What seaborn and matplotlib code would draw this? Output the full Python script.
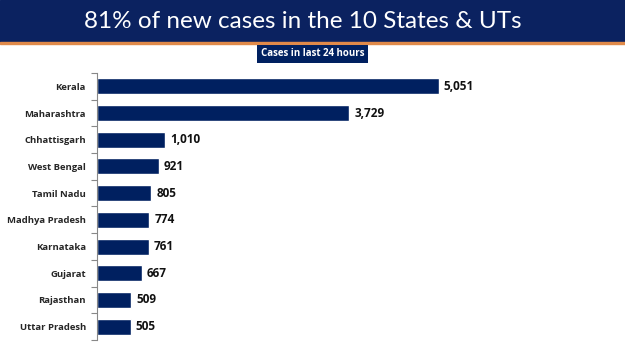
import numpy as np
import pandas as pd
import seaborn as sns
import matplotlib.pyplot as plt
from matplotlib.patches import Rectangle

states = ["Kerala", "Maharashtra", "Chhattisgarh", "West Bengal", "Tamil Nadu",
          "Madhya Pradesh", "Karnataka", "Gujarat", "Rajasthan", "Uttar Pradesh"]
cases = [5051, 3729, 1010, 921, 805, 774, 761, 667, 509, 505]

navy = "#002060"
sns.set_style("white")
plt.rcParams['font.family'] = ['Open Sans', 'DejaVu Sans']

df = pd.DataFrame({"State": states, "Cases": cases})

fig = plt.figure(figsize=(6.25, 3.51), dpi=100)

# title banner
fig.patches.append(Rectangle((0, 1 - 42 / 351), 1, 42 / 351, transform=fig.transFigure,
                             color="#0b2260", zorder=0))
fig.patches.append(Rectangle((0, 1 - 44 / 351), 1, 2 / 351, transform=fig.transFigure,
                             color="#e08a4a", zorder=0))
fig.text(0.485, 1 - 21 / 351, "81% of new cases in the 10 States & UTs", color="white",
         fontsize=17.5, ha="center", va="center", family=['Lato', 'DejaVu Sans'])
fig.text(0.5, 1 - 54 / 351, "Cases in last 24 hours", color="white", fontsize=7,
         fontweight="bold", ha="center", va="center",
         bbox=dict(boxstyle="square,pad=0.35", fc=navy, ec="none"))

ax = fig.add_axes([97 / 625, 1 - 340 / 351, 503 / 625, 267 / 351])
sns.barplot(data=df, x="Cases", y="State", color=navy, width=0.6, saturation=1, ax=ax)

ax.set_xlim(0, 7430)
ax.set_ylim(9.5, -0.5)
for i, v in enumerate(cases):
    ax.text(v + 70, i, f"{v:,}", va="center", ha="left", fontsize=8.5, fontweight="bold",
            color="#111111")

ax.set_xlabel("")
ax.set_ylabel("")
ax.set_xticks([])
sns.despine(ax=ax, left=False, bottom=True)
ax.spines["left"].set_color("#888888")
ax.spines["left"].set_linewidth(0.8)
ax.tick_params(axis="y", which="major", length=0, labelsize=6.8, pad=8)
for lbl in ax.get_yticklabels():
    lbl.set_fontweight("bold")
ax.set_yticks(np.arange(-0.5, 10, 1), minor=True)
ax.tick_params(axis="y", which="minor", left=True, length=4, color="#888888", width=0.8)

fig.savefig("out.png", dpi=100)
